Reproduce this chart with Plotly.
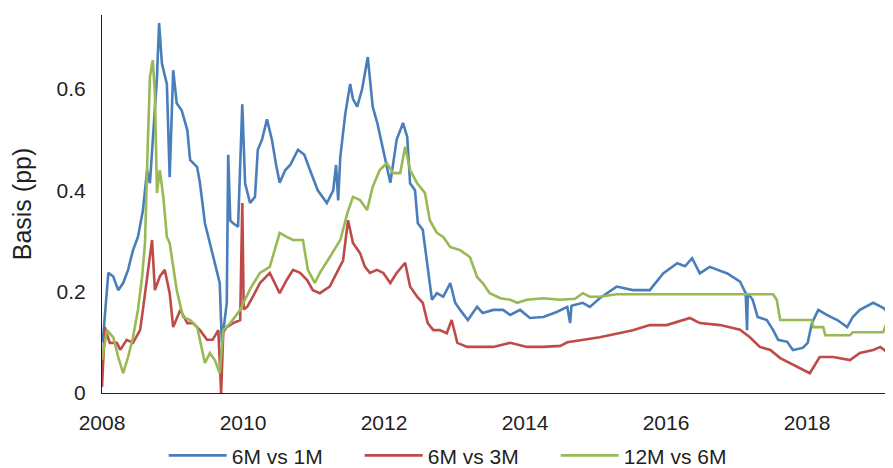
import plotly.graph_objects as go

# ---- data (decimal years, basis in percentage points) ----
blue_x = [2008.01, 2008.09, 2008.16, 2008.23, 2008.30, 2008.37, 2008.44, 2008.51, 2008.58, 2008.64,
          2008.68, 2008.72, 2008.78, 2008.81, 2008.85, 2008.92, 2008.96, 2009.01, 2009.06, 2009.13,
          2009.21, 2009.25, 2009.35, 2009.39, 2009.46, 2009.53, 2009.60, 2009.67, 2009.70, 2009.77,
          2009.79, 2009.82, 2009.86, 2009.93, 2009.99, 2010.03, 2010.10, 2010.17, 2010.21, 2010.27,
          2010.34, 2010.41, 2010.47, 2010.52, 2010.60, 2010.67, 2010.78, 2010.87, 2010.95, 2011.06,
          2011.19, 2011.28, 2011.32, 2011.35, 2011.38, 2011.45, 2011.52, 2011.56, 2011.62, 2011.69,
          2011.77, 2011.84, 2011.91, 2011.99, 2012.09, 2012.18, 2012.27, 2012.33, 2012.37, 2012.44,
          2012.48, 2012.55, 2012.61, 2012.68, 2012.75, 2012.84, 2012.94, 2013.01, 2013.08, 2013.19,
          2013.32, 2013.40, 2013.55, 2013.69, 2013.79, 2013.93, 2014.07, 2014.26, 2014.45, 2014.60,
          2014.64, 2014.66, 2014.82, 2014.92, 2015.06, 2015.30, 2015.53, 2015.77, 2015.96, 2016.16,
          2016.27, 2016.37, 2016.48, 2016.62, 2016.87, 2017.05, 2017.13, 2017.15, 2017.16, 2017.23,
          2017.30, 2017.43, 2017.52, 2017.59, 2017.72, 2017.80, 2017.94, 2018.01, 2018.07, 2018.16,
          2018.28, 2018.43, 2018.57, 2018.65, 2018.75, 2018.94, 2019.08, 2019.22]
blue_y = [0.100, 0.237, 0.230, 0.203, 0.217, 0.243, 0.282, 0.308, 0.360, 0.440,
          0.414, 0.493, 0.624, 0.730, 0.650, 0.610, 0.426, 0.637, 0.572, 0.558,
          0.519, 0.460, 0.446, 0.414, 0.335, 0.296, 0.257, 0.217, 0.099, 0.178,
          0.470, 0.340, 0.335, 0.328, 0.570, 0.414, 0.375, 0.387, 0.480, 0.500,
          0.540, 0.500, 0.450, 0.415, 0.440, 0.450, 0.480, 0.470, 0.440, 0.400,
          0.375, 0.400, 0.450, 0.380, 0.466, 0.550, 0.610, 0.580, 0.565, 0.600,
          0.663, 0.565, 0.530, 0.480, 0.415, 0.500, 0.533, 0.505, 0.414, 0.400,
          0.335, 0.322, 0.257, 0.184, 0.197, 0.190, 0.217, 0.178, 0.164, 0.144,
          0.170, 0.158, 0.164, 0.164, 0.154, 0.164, 0.148, 0.150, 0.160, 0.170,
          0.138, 0.172, 0.178, 0.170, 0.187, 0.210, 0.203, 0.203, 0.236, 0.256,
          0.250, 0.266, 0.236, 0.249, 0.236, 0.220, 0.197, 0.124, 0.197, 0.184,
          0.150, 0.144, 0.124, 0.105, 0.101, 0.085, 0.089, 0.099, 0.138, 0.164,
          0.154, 0.144, 0.130, 0.150, 0.164, 0.178, 0.168, 0.150]

red_x = [2008.00, 2008.04, 2008.11, 2008.21, 2008.26, 2008.35, 2008.44, 2008.54, 2008.58, 2008.65,
         2008.71, 2008.75, 2008.82, 2008.89, 2008.96, 2009.01, 2009.11, 2009.21, 2009.29, 2009.39,
         2009.49, 2009.57, 2009.65, 2009.69, 2009.72, 2009.77, 2009.86, 2009.96, 2009.99, 2010.01,
         2010.06, 2010.14, 2010.24, 2010.38, 2010.52, 2010.62, 2010.71, 2010.81, 2010.91, 2010.99,
         2011.09, 2011.23, 2011.33, 2011.42, 2011.49, 2011.56, 2011.66, 2011.73, 2011.80, 2011.90,
         2011.99, 2012.09, 2012.18, 2012.30, 2012.37, 2012.47, 2012.55, 2012.62, 2012.70, 2012.79,
         2012.89, 2012.96, 2013.04, 2013.18, 2013.32, 2013.55, 2013.79, 2014.03, 2014.26, 2014.50,
         2014.60, 2015.06, 2015.53, 2015.77, 2016.01, 2016.34, 2016.48, 2016.77, 2017.05, 2017.19,
         2017.33, 2017.48, 2017.62, 2017.76, 2017.90, 2018.04, 2018.18, 2018.37, 2018.61, 2018.75,
         2018.94, 2019.04, 2019.22]
red_y = [0.012, 0.130, 0.099, 0.099, 0.085, 0.105, 0.099, 0.124, 0.164, 0.243,
         0.302, 0.203, 0.230, 0.243, 0.197, 0.130, 0.164, 0.138, 0.138, 0.124,
         0.105, 0.105, 0.124, 0.000, 0.120, 0.130, 0.138, 0.144, 0.375, 0.165,
         0.170, 0.190, 0.217, 0.237, 0.197, 0.223, 0.243, 0.237, 0.223, 0.203,
         0.197, 0.210, 0.237, 0.262, 0.341, 0.296, 0.276, 0.249, 0.237, 0.243,
         0.237, 0.217, 0.237, 0.257, 0.210, 0.190, 0.178, 0.138, 0.124, 0.124,
         0.118, 0.144, 0.099, 0.091, 0.091, 0.091, 0.099, 0.091, 0.091, 0.093,
         0.100, 0.110, 0.124, 0.134, 0.134, 0.148, 0.138, 0.134, 0.125, 0.110,
         0.091, 0.085, 0.069, 0.059, 0.049, 0.039, 0.071, 0.071, 0.065, 0.079,
         0.085, 0.091, 0.071]

green_x = [2008.00, 2008.07, 2008.16, 2008.23, 2008.30, 2008.37, 2008.44, 2008.51, 2008.57, 2008.61,
           2008.65, 2008.68, 2008.72, 2008.75, 2008.78, 2008.82, 2008.87, 2008.92, 2008.96, 2009.06,
           2009.15, 2009.25, 2009.35, 2009.39, 2009.46, 2009.53, 2009.60, 2009.67, 2009.72, 2009.82,
           2009.96, 2010.10, 2010.24, 2010.38, 2010.52, 2010.62, 2010.71, 2010.85, 2010.92, 2011.02,
           2011.09, 2011.23, 2011.38, 2011.48, 2011.56, 2011.66, 2011.76, 2011.84, 2011.94, 2012.04,
           2012.13, 2012.23, 2012.30, 2012.37, 2012.47, 2012.58, 2012.65, 2012.75, 2012.84, 2012.94,
           2013.08, 2013.22, 2013.32, 2013.40, 2013.50, 2013.65, 2013.79, 2013.89, 2014.03, 2014.26,
           2014.50, 2014.71, 2014.82, 2014.92, 2015.06, 2015.30, 2015.77, 2016.48, 2017.05, 2017.52,
           2017.57, 2017.62, 2018.07, 2018.09, 2018.23, 2018.26, 2018.61, 2018.65, 2019.08, 2019.13,
           2019.22]
green_y = [0.065, 0.124, 0.110, 0.071, 0.039, 0.071, 0.110, 0.164, 0.230, 0.296,
           0.493, 0.624, 0.657, 0.592, 0.395, 0.440, 0.387, 0.308, 0.296, 0.203,
           0.150, 0.144, 0.130, 0.105, 0.059, 0.079, 0.065, 0.039, 0.124, 0.138,
           0.164, 0.205, 0.237, 0.249, 0.316, 0.308, 0.302, 0.302, 0.243, 0.217,
           0.237, 0.268, 0.302, 0.355, 0.387, 0.381, 0.361, 0.407, 0.440, 0.454,
           0.434, 0.434, 0.486, 0.440, 0.414, 0.395, 0.341, 0.316, 0.308, 0.288,
           0.282, 0.268, 0.229, 0.217, 0.197, 0.187, 0.184, 0.178, 0.184, 0.187,
           0.184, 0.186, 0.197, 0.190, 0.190, 0.195, 0.195, 0.195, 0.195, 0.195,
           0.184, 0.144, 0.144, 0.130, 0.130, 0.114, 0.114, 0.120, 0.120, 0.138,
           0.138]

series_names = ["6M vs 1M", "6M vs 3M", "12M vs 6M"]
series_colors = ["#4A7EBB", "#BE4B48", "#98B954"]
x_ticks = [2008, 2010, 2012, 2014, 2016, 2018]
x_tick_labels = ["2008", "2010", "2012", "2014", "2016", "2018"]
y_ticks = [0, 0.2, 0.4, 0.6]
y_tick_labels = ["0", "0.2", "0.4", "0.6"]
y_title = "Basis (pp)"
x_range = [2008, 2019.22]
y_range = [0, 0.746]

fig = go.Figure()
for name, xs, ys, col in zip(series_names, [blue_x, red_x, green_x],
                             [blue_y, red_y, green_y], series_colors):
    fig.add_trace(go.Scatter(x=xs, y=ys, mode="lines", name=name,
                             line=dict(color=col, width=2.6)))

FONT = "Liberation Sans, Arial, sans-serif"
TXT = "#1f1f1f"
AX = "#222"
CLEAR = "rgba(0,0,0,0)"
fig.update_layout(
    width=885, height=460,
    margin=dict(l=94, r=0, t=7, b=75, autoexpand=False),
    paper_bgcolor="white", plot_bgcolor="white",
    font=dict(family=FONT, size=21, color=TXT),
    showlegend=True,
    legend=dict(orientation="h", x=0.078, xanchor="left", y=-0.166, yanchor="middle",
                font=dict(size=21, color=TXT), itemwidth=58,
                entrywidth=123, entrywidthmode="pixels", bgcolor=CLEAR),
    # label-carrying axes (invisible long ticks only push the labels away)
    xaxis=dict(range=x_range, tickvals=x_ticks, ticktext=x_tick_labels,
               showgrid=False, zeroline=False, showline=True, linecolor=AX, linewidth=1.2,
               ticks="outside", ticklen=11, tickcolor=CLEAR, automargin=False),
    yaxis=dict(range=y_range, tickvals=y_ticks, ticktext=y_tick_labels,
               showgrid=False, zeroline=False, showline=True, linecolor=AX, linewidth=1.2,
               ticks="outside", ticklen=11, tickcolor=CLEAR, automargin=False,
               title=dict(text=y_title, standoff=21)),
    # overlay axes that only draw the visible tick marks
    xaxis2=dict(overlaying="x", anchor="y", range=x_range, tickvals=x_ticks,
                showticklabels=False, showgrid=False, zeroline=False, showline=False,
                ticks="inside", ticklen=6, tickcolor=AX, tickwidth=1.2),
    yaxis2=dict(overlaying="y", anchor="x", side="left", range=y_range, tickvals=y_ticks,
                showticklabels=False, showgrid=False, zeroline=False, showline=False,
                ticks="outside", ticklen=5, tickcolor=AX, tickwidth=1.2),
)

fig.write_html("out.html")
